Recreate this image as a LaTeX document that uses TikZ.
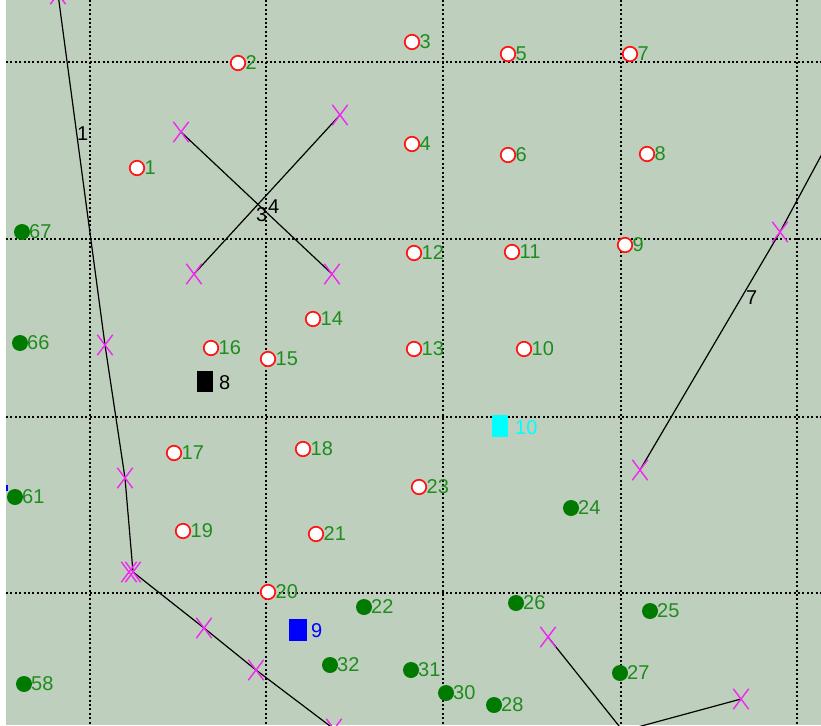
\documentclass[tikz,border=0pt]{standalone}
\usepackage{fontspec}
\setmainfont{Liberation Sans}
\usetikzlibrary{shapes.misc}
\definecolor{bg}{RGB}{191,207,189}
\definecolor{ringred}{RGB}{255,20,20}
\definecolor{dotgreen}{RGB}{0,122,0}
\definecolor{numgreen}{RGB}{30,140,30}
\definecolor{xmag}{RGB}{240,40,240}
\definecolor{cyanbox}{RGB}{0,255,255}
\definecolor{bluebox}{RGB}{0,0,255}
\tikzset{
  gridline/.style={black, line width=1.4pt, dash pattern=on 2pt off 2.4pt},
  ring/.style={circle, draw=ringred, fill=white, line width=1.7pt, minimum size=14.5pt, inner sep=0pt},
  gdot/.style={circle, fill=dotgreen, minimum size=16pt, inner sep=0pt},
  xmark/.style={cross out, draw=xmag, line width=1.4pt, minimum width=14pt, minimum height=19pt, inner sep=0pt},
  num/.style={font=\fontsize{20}{20}\selectfont, text=numgreen, inner sep=0pt, anchor=west},
  blk/.style={font=\fontsize{20}{20}\selectfont, text=black, inner sep=0pt, anchor=west},
  polyline/.style={black, line width=1.2pt, line join=round},
  box/.style={rectangle, inner sep=0pt, draw=none}
}
\begin{document}
\begin{tikzpicture}[x=1pt,y=-1pt]
\useasboundingbox (0,0) rectangle (821,725);
\fill[bg] (6,0) rectangle (821,725);
\begin{scope}
\clip (6,0) rectangle (821,725);
% grid
\foreach \gx in {90,266,443,621,797} \draw[gridline] (\gx,0) -- (\gx,725);
\foreach \gy in {62,239,417,593} \draw[gridline] (6,\gy) -- (821,\gy);
% line 1
\coordinate (t0) at (58,-6);
\coordinate (t1) at (105,345);
\coordinate (t2) at (125,478);
\coordinate (t3) at (133,572);
\coordinate (t4) at (204,628);
\coordinate (t5) at (256,670);
\coordinate (t6) at (334,729);
\draw[polyline] (t0) -- (t1) -- (t2) -- (t3) -- (t4) -- (t5) -- (t6);
% lines 3 and 4
\coordinate (a1) at (181,132);
\coordinate (a2) at (332,274);
\coordinate (b1) at (194,274);
\coordinate (b2) at (340,115);
\draw[polyline] (a1) -- (a2);
\draw[polyline] (b1) -- (b2);
% line 7
\coordinate (c1) at (640,470);
\coordinate (c2) at (780,232);
\coordinate (c3) at (850,102);
\draw[polyline] (c1) -- (c2) -- (c3);
% bottom right line
\coordinate (d1) at (548,637);
\coordinate (d2) at (623,731);
\coordinate (d3) at (741,699);
\draw[polyline] (d1) -- (d2) -- (d3);
% markers
\foreach \m in {t0,t1,t2,t3,t4,t5,t6,a1,a2,b1,b2,c1,c2,d1,d3}
  \node[xmark] (x\m) at (\m) {};
\node[xmark] (xt3b) at ([xshift=-4pt]t3) {};
% line labels
\node[blk] (l1) at (77,134) {1};
\node[blk] (l3) at (256,215) {3};
\node[blk] (l4) at (268,207) {4};
\node[blk] (l7) at (746,298) {7};
% red rings
\foreach \n/\px/\py in {1/137/168, 2/238/63, 3/412/42, 4/412/144, 5/508/54, 6/508/155,
  7/630/54, 8/647/154, 9/625/245, 10/524/349, 11/512/252, 12/414/253, 13/414/349,
  14/313/319, 15/268/359, 16/211/348, 17/174/453, 18/303/449, 19/183/531, 20/268/592,
  21/316/534, 23/419/487} {
  \node[ring] (p\n) at (\px,\py) {};
  \node[num] (lp\n) at ([xshift=7.5pt]p\n.center) {\n};
}
% green dots
\foreach \n/\px/\py in {67/22/232, 66/20/343, 61/15/497, 58/24/684, 24/571/508,
  22/364/607, 26/516/603, 25/650/611, 32/330/665, 31/411/670, 30/446/693,
  28/494/705, 27/620/673} {
  \node[gdot] (g\n) at (\px,\py) {};
  \node[num] (lg\n) at ([xshift=7pt]g\n.center) {\n};
}
% boxes
\node[box, fill=black, minimum width=16pt, minimum height=21pt] (r8) at (204.5,381.5) {};
\node[blk] (lr8) at (219,383) {8};
\node[box, fill=cyanbox, minimum width=16pt, minimum height=22pt] (r10) at (500,426) {};
\node[blk, text=cyanbox] (lr10) at (515,428) {10};
\node[box, fill=bluebox, minimum width=18pt, minimum height=22pt] (r9) at (298,630) {};
\node[blk, text=bluebox] (lr9) at (311,631) {9};
% small blue mark at left edge
\node[box, fill=bluebox, minimum width=2pt, minimum height=6pt] (edge) at (7,488) {};
\end{scope}
\end{tikzpicture}
\end{document}
